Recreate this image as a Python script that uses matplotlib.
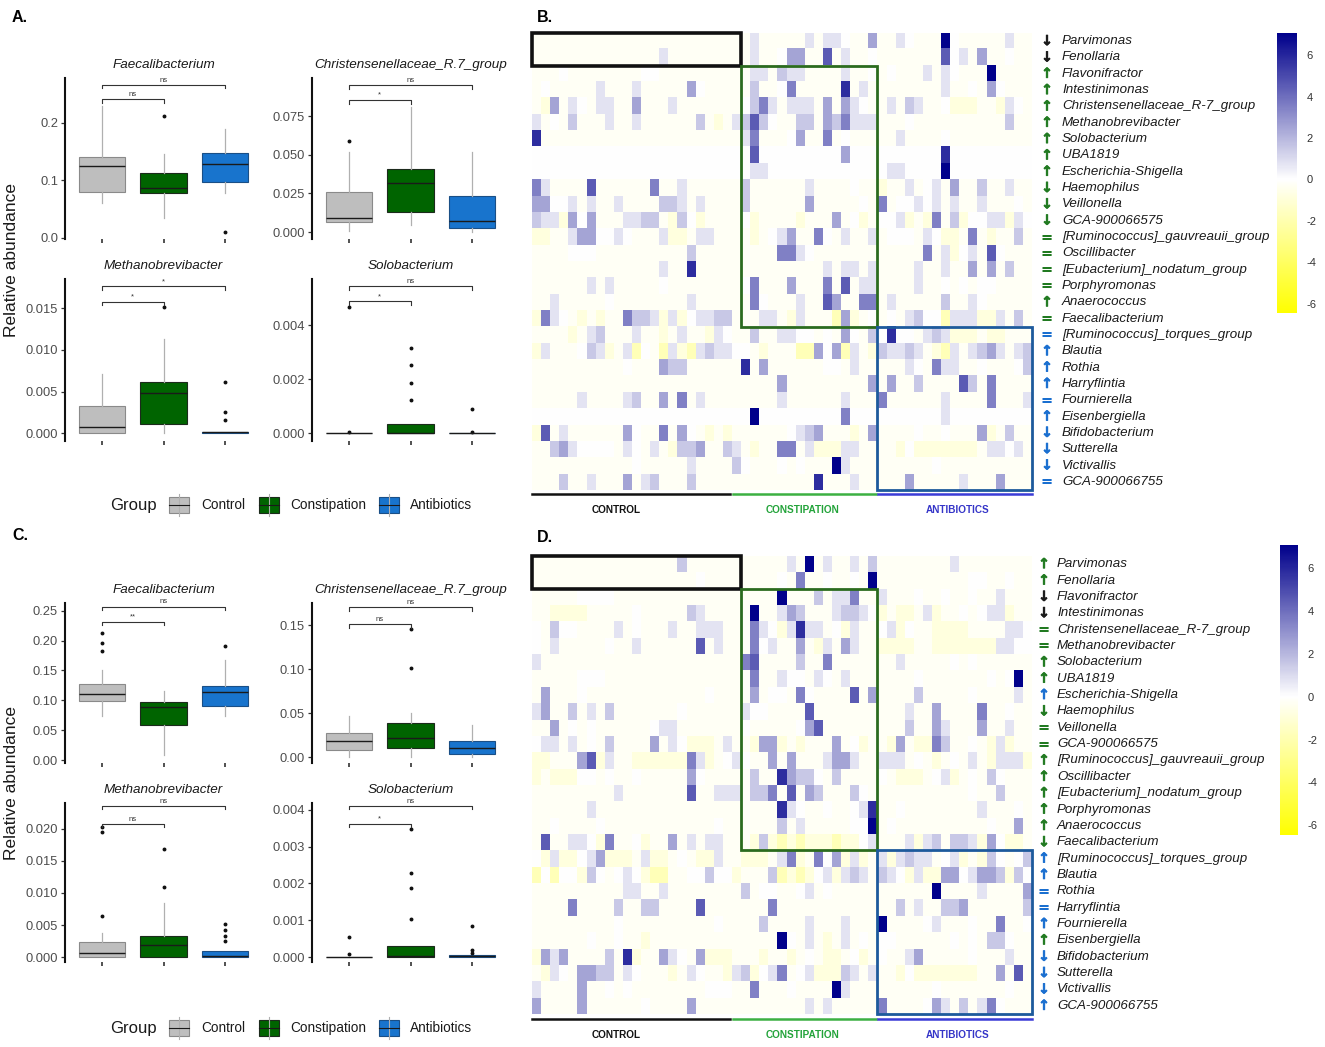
import numpy as np
import matplotlib
matplotlib.use("Agg")
import matplotlib.pyplot as plt
import matplotlib.patheffects as pe
from matplotlib.colors import LinearSegmentedColormap, Normalize
from matplotlib.patches import Rectangle
from matplotlib.lines import Line2D
from matplotlib.cm import ScalarMappable
from matplotlib.transforms import blended_transform_factory

plt.rcParams['font.family'] = ['Liberation Sans', 'DejaVu Sans']

# ------------------------------------------------------------------ DATA
groups = ['Control', 'Constipation', 'Antibiotics']
group_fill = ['#BEBEBE', '#006400', '#1874CD']
group_edge = ['#8a8a8a', '#1c2a1c', '#1a4f86']

box_titles = ['Faecalibacterium', 'Christensenellaceae_R.7_group',
              'Methanobrevibacter', 'Solobacterium']

# (whislo, q1, median, q3, whishi, outliers) per group
A_faecalibacterium = [(0.061, 0.079, 0.124, 0.1396, 0.230, []),
                      (0.034, 0.0785, 0.086, 0.112, 0.146, [0.211]),
                      (0.0775, 0.096, 0.128, 0.1466, 0.189, [0.0105])]
A_christensenellaceae = [(0.0004, 0.0064, 0.0092, 0.0258, 0.052, [0.0586]),
                         (0.0043, 0.0129, 0.0318, 0.0408, 0.081, []),
                         (0.0, 0.0028, 0.0071, 0.0232, 0.0515, [])]
A_methanobrevibacter = [(0.0, 0.0, 0.0007, 0.00325, 0.0071, []),
                        (0.0, 0.00108, 0.00478, 0.00614, 0.0113, [0.0151]),
                        (0.0, 0.0, 0.0001, 0.0002, 0.0002, [0.0062, 0.00257, 0.00165])]
A_solobacterium = [(0.0, 0.0, 0.0, 0.00001, 0.00001, [0.00466, 0.00003]),
                   (0.0, 0.0, 0.00001, 0.000346, 0.000346, [0.00315, 0.00253, 0.00187, 0.00123]),
                   (0.0, 0.0, 0.0, 0.00001, 0.00001, [0.0009, 0.00004])]
A_sig = [[('ns', 0.241), ('ns', 0.266)],
         [('*', 0.0853), ('ns', 0.095)],
         [('*', 0.0158), ('*', 0.01763)],
         [('*', 0.00488), ('ns', 0.00544)]]

C_faecalibacterium = [(0.074, 0.099, 0.111, 0.128, 0.151, [0.213, 0.196, 0.183]),
                      (0.008, 0.059, 0.089, 0.097, 0.116, []),
                      (0.074, 0.091, 0.114, 0.124, 0.168, [0.191])]
C_christensenellaceae = [(0.0, 0.008, 0.018, 0.027, 0.047, []),
                         (0.0, 0.010, 0.022, 0.039, 0.050, [0.146, 0.101]),
                         (0.0, 0.003, 0.010, 0.018, 0.036, [])]
C_methanobrevibacter = [(0.0, 0.0, 0.0006, 0.0023, 0.0037, [0.0064, 0.0196, 0.0203]),
                        (0.0, 0.0, 0.0019, 0.0033, 0.0084, [0.011, 0.0169]),
                        (0.0, 0.0, 0.0001, 0.0009, 0.0009, [0.0052, 0.0042, 0.0033, 0.0025])]
C_solobacterium = [(0.0, 0.0, 0.0, 0.00001, 0.00001, [0.00054, 0.00008]),
                   (0.0, 0.0, 0.00002, 0.0003, 0.0003, [0.00103, 0.00188, 0.00229, 0.00348]),
                   (0.0, 0.0, 0.00003, 0.00005, 0.00005, [0.00084, 0.00019, 0.0001])]
C_sig = [[('**', 0.232), ('ns', 0.257)],
         [('ns', 0.151), ('ns', 0.170)],
         [('ns', 0.0208), ('ns', 0.0236)],
         [('*', 0.00362), ('ns', 0.00411)]]

A_yticks = [[0.0, 0.1, 0.2], [0.0, 0.025, 0.05, 0.075],
            [0.0, 0.005, 0.010, 0.015], [0.0, 0.002, 0.004]]
A_yticklabels = [['0.0', '0.1', '0.2'], ['0.000', '0.025', '0.050', '0.075'],
                 ['0.000', '0.005', '0.010', '0.015'], ['0.000', '0.002', '0.004']]
C_yticks = [[0.0, 0.05, 0.10, 0.15, 0.20, 0.25], [0.0, 0.05, 0.10, 0.15],
            [0.0, 0.005, 0.010, 0.015, 0.020], [0.0, 0.001, 0.002, 0.003, 0.004]]
C_yticklabels = [['0.00', '0.05', '0.10', '0.15', '0.20', '0.25'],
                 ['0.00', '0.05', '0.10', '0.15'],
                 ['0.000', '0.005', '0.010', '0.015', '0.020'],
                 ['0.000', '0.001', '0.002', '0.003', '0.004']]

genera_B = ['Parvimonas', 'Fenollaria', 'Flavonifractor', 'Intestinimonas',
            'Christensenellaceae_R-7_group', 'Methanobrevibacter', 'Solobacterium',
            'UBA1819', 'Escherichia-Shigella', 'Haemophilus', 'Veillonella',
            'GCA-900066575', '[Ruminococcus]_gauvreauii_group', 'Oscillibacter',
            '[Eubacterium]_nodatum_group', 'Porphyromonas', 'Anaerococcus',
            'Faecalibacterium', '[Ruminococcus]_torques_group', 'Blautia', 'Rothia',
            'Harryflintia', 'Fournierella', 'Eisenbergiella', 'Bifidobacterium',
            'Sutterella', 'Victivallis', 'GCA-900066755']
genera_D = list(genera_B)

arrows_B = ['↓', '↓', '↑', '↑', '↑', '↑', '↑', '↑', '↑', '↓', '↓', '↓', '=', '=',
            '=', '=', '↑', '=', '=', '↑', '↑', '↑', '=', '↑', '↓', '↓', '↓', '=']
arrow_grp_B = ['k', 'k'] + ['g'] * 16 + ['b'] * 10
arrows_D = ['↑', '↑', '↓', '↓', '=', '=', '↑', '↑', '↑', '↓', '=', '=', '↑', '↑',
            '↑', '↑', '↑', '↓', '↑', '↑', '=', '=', '↑', '↑', '↓', '↓', '↓', '↑']
arrow_grp_D = ['g', 'g', 'k', 'k', 'g', 'g', 'g', 'g', 'b', 'g', 'g', 'g', 'g', 'g',
               'g', 'g', 'g', 'g', 'b', 'b', 'b', 'b', 'b', 'g', 'b', 'b', 'b', 'b']

# heatmap cell codes: y/-/. = yellowish, 0 = white, 1..7 blue levels
levels = {'y': -1.8, '-': -0.85, '.': -0.25, '0': 0.0, '1': 0.75, '2': 1.5,
          '3': 2.5, '4': 3.5, '5': 4.5, '6': 5.8, '7': 7.0}

HB_control = [
    ".......................", "..............1........", "...0........00.........",
    ".0.....1...1.....30....", ".-3.10.11..3...1.......", "1.0.2...1..1......2.-.1",
    "6......................", "00000000000000000000000", "00000000000000000000000",
    "41....5......4..1......", "33001.1..1....221.1....", "211-303...1122.-20-....",
    "--..1330010...1--.11...", "....000..........2.....", "..............1..6.....",
    "......1.1.....0........", "..1.....0........1.....", "-410.-.-..4221-1-01122.",
    "....-.12...1..-.1..-10.", "-1...021-.1y0.y1-y12110", "..........0...322......",
    ".......................", ".....1....12..3.4.1....", "00000000000000000000000",
    "-5.1......30..4.30.-.-.", "..2310000.10.1.-223..21", "...........0.....1....2",
    "...2..1...3.12...2....."]
HB_constipation = [
    ".1.....1.110..3", ".1..033..5.1..0", ".11.211....1..0", ".2..04.....6.1.",
    "0241.111.3.310.", "2520..22.324111", "14...03..4.0...", "050000000003000",
    "011000000000000", "2......1....0..", "2......3.....0.", "0-....-...3.0-.",
    ".-.013..40.1..1", "....4410.......", ".........1.11.1", "04...3...4.5.11",
    ".40...1..53..44", "..11.-1...y3-.0", ".2..1100.0.30.2", "0.-...yy303y1.-",
    "6.3......00.1..", "....3.........3", "....1......1...", "070000000004000",
    ".....0123...-.3", ".-..44.1---11..", "0...0.0...71...", "........6...1.."]
HB_antibiotics = [
    "..10...70.....1..", ".......501.3..0..", ".0...1.10...7....", ".......1..0.30...",
    ".1.21..0---..-10.", "...0..........2..", "..1....0.........", "00000006000000000",
    "01100007000000000", "-..1.01.3..2..1..", "4.00101.1..1...0.", "001-.-4.2-0011-10",
    ".000.10--.4.-..2.", ".....4.1-01.50...", "....1..1..3.3.2..", "....1..0.0.00....",
    ".1.....2..10.....", ".0.1200y111--1.2.", "0600.121---.--...", "21121.-y1.1231.12",
    "...10.411..0...02", ".3..2....52.4....", "4......1....4...1", "00000001000000000",
    "....0..0...3-.2..", "..-0-------.1101.", "......0..........", "...3.....1...3..."]

HD_control = [
    "................2......", "..................0....", ".....0000..............",
    "..----.....0.....21....", "0.200....1.0...1..111..", "0.1.....0..1......5.1..",
    "1......................", ".....000...............", ".3...0.............0...",
    "13..2.1.2.......0......", "..3.0.0......011.......", "011.1.0.2....3.10---.1.",
    "--...35-1..------41-.01", "-.---00.0..0.....30....", ".........1.......5..111",
    "......1................", "..0....0............0..", ".5..110-4..0-..3.1.11..",
    "0-1--013---.1--.0.--1..", "y0y00-20.010-yy..00200-", "..........11..1........",
    "....4....2..22....5....", ".........0..........0..", "......0..0..-..........",
    "-313....2.6-..310.3---.", ".-10.3322.10...-.10..-1", "1....3..0.0........000.",
    "3....3......0....3....."]
HD_constipation = [
    ".....1.7.1..1.2", "....0.4..0..0.7", "....7...2.114..", ".7..132...12210",
    ".410-1611.0-1..", ".401..3.-1.31..", "45....2..4.....", ".4..100.10.1...",
    ".3.00.40....5.3", "100....5.......", "0.....035......", ".-33-.-...3.0-.",
    "0..3.3...1331..", ".2..63220.2....", ".224.5.32...20.", "....610..0..016",
    "....2.1.....007", ".-2-y-y---y--01", "---.14-.403-1-.", "...2y-y-01-121.",
    "2.00..01.0.....", "...4...........", "..2....1...1...", "....70.1.-.1.0.",
    "..-..-.0.--.0-.", "2-014.01---21.1", ".4...0....71...", ".......1.1....."]
HD_antibiotics = [
    "........1........", "..........00..0..", "1...0..0..0..1...", "-.--.1-..0.011-..",
    "01-0..----....110", "----..-------1100", "..1.....0.0......", "....0.......0.07.",
    "....2.....0....1.", "...1..3....4..0..", "...2..31...3..1..", ".-3.--42..0.-1-..",
    "111.0.-.0.1.-111-", "0.---.01-.0.20...", "..........0..2...", "..0........1...0.",
    ".0..........0..3.", "...1-12.221-30--.", "1-1211.01-.-20.02", "210-1--3301332-20",
    "......7....1....3", "..2.1..223......2", "7....01...0..4..0", "00......0.0.220..",
    "0..13.....0...1..", "..-0-------..3.5.", "......0.......0..", "4....031.2.140..."]

n_ctrl, n_const, n_anti = 23, 15, 17
cb_ticks = [-6, -4, -2, 0, 2, 4, 6]
vmin, vmax = -6.45, 7.07

# ------------------------------------------------------------------ FIGURE
W, H = 1325, 1047
fig = plt.figure(figsize=(W / 100, H / 100), dpi=100)


def pxa(x0, y0, x1, y1):
    return fig.add_axes([x0 / W, 1 - y1 / H, (x1 - x0) / W, (y1 - y0) / H])


def fx(x):
    return x / W


def fy(y):
    return 1 - y / H


def box_panel(ax, stats, ylim, yticks, yticklabels, title, sigs):
    st = []
    for (lo, q1, med, q3, hi, fl) in stats:
        st.append(dict(med=med, q1=q1, q3=q3, whislo=lo, whishi=hi,
                       fliers=np.array(fl, dtype=float)))
    bp = ax.bxp(st, positions=[1, 2, 3], widths=0.75, patch_artist=True,
                showcaps=False,
                flierprops=dict(marker='o', markersize=1.8, markerfacecolor='#111111',
                                markeredgecolor='#111111'),
                medianprops=dict(color='#1a1a1a', lw=1.0),
                whiskerprops=dict(color='#b0b0b0', lw=0.9))
    for patch, fc, ec in zip(bp['boxes'], group_fill, group_edge):
        patch.set_facecolor(fc)
        patch.set_edgecolor(ec)
        patch.set_linewidth(0.8)
    ax.set_xlim(0.4, 3.6)
    ax.set_ylim(*ylim)
    ax.set_yticks(yticks)
    ax.set_yticklabels(yticklabels)
    ax.set_xticks([1, 2, 3])
    ax.set_xticklabels([])
    for s in ['top', 'right', 'bottom']:
        ax.spines[s].set_visible(False)
    ax.spines['left'].set_linewidth(1.5)
    ax.spines['left'].set_color('#111111')
    ax.tick_params(axis='y', labelsize=9.3, labelcolor='#4d4d4d', length=3,
                   width=0.9, color='#333333', pad=2)
    ax.tick_params(axis='x', length=3, width=1.2, color='#333333')
    ax.annotate(title, xy=(0.5, 1.0), xycoords='axes fraction', xytext=(0, 9.4),
                textcoords='offset points', ha='center', va='center',
                fontsize=9.7, style='italic', color='#1a1a1a')
    yr = ylim[1] - ylim[0]
    d = 0.022 * yr
    for (lab, yv), x2 in zip(sigs, [2, 3]):
        ax.plot([1, 1, x2, x2], [yv - d, yv, yv, yv - d], color='#333333', lw=0.8,
                clip_on=False)
        ax.text((1 + x2) / 2, yv + 0.008 * yr, lab, ha='center', va='bottom',
                fontsize=5.5, color='#333333')


def legend_row(yc):
    fig.text(fx(110), fy(yc), 'Group', fontsize=12, va='center', ha='left',
             color='#1a1a1a')
    for kx, tx, lab, fc, ec in zip([169, 259, 379], [201, 290, 410], groups,
                                   group_fill, group_edge):
        fig.add_artist(Line2D([fx(kx + 10)] * 2, [fy(yc - 11), fy(yc + 11)],
                              color='#b0b0b0', lw=0.8))
        fig.add_artist(Rectangle((fx(kx), fy(yc + 8)), 20 / W, 16 / H,
                                 transform=fig.transFigure, fc=fc, ec=ec, lw=0.8))
        fig.add_artist(Line2D([fx(kx), fx(kx + 20)], [fy(yc)] * 2, color='#1a1a1a',
                              lw=0.8))
        fig.text(fx(tx), fy(yc), lab, fontsize=9.8, va='center', ha='left',
                 color='#1a1a1a')


A_stats = [A_faecalibacterium, A_christensenellaceae, A_methanobrevibacter, A_solobacterium]
C_stats = [C_faecalibacterium, C_christensenellaceae, C_methanobrevibacter, C_solobacterium]
A_ylims = [(-0.0025, 0.278), (-0.0045, 0.0996), (-0.00093, 0.01852), (-0.00029, 0.00571)]
C_ylims = [(-0.005, 0.263), (-0.0068, 0.175), (-0.00078, 0.02406), (-0.000136, 0.00419)]
A_rects = [(65, 78, 262, 239), (312, 78, 509, 239), (65, 279, 262, 441), (312, 279, 509, 441)]
C_rects = [(65, 603, 262, 763), (312, 603, 509, 763), (65, 803, 262, 962), (312, 803, 509, 962)]

for i in range(4):
    ax = pxa(*A_rects[i])
    box_panel(ax, A_stats[i], A_ylims[i], A_yticks[i], A_yticklabels[i], box_titles[i], A_sig[i])
    ax = pxa(*C_rects[i])
    box_panel(ax, C_stats[i], C_ylims[i], C_yticks[i], C_yticklabels[i], box_titles[i], C_sig[i])

fig.text(fx(12), fy(260), 'Relative abundance', rotation=90, fontsize=12.5,
         va='center', ha='center', color='#1a1a1a')
fig.text(fx(12), fy(783), 'Relative abundance', rotation=90, fontsize=12.5,
         va='center', ha='center', color='#1a1a1a')
legend_row(505)
legend_row(1028)

for lab, x, y in [('A.', 12, 17), ('B.', 537, 17), ('C.', 12, 536), ('D.', 537, 537)]:
    fig.text(fx(x), fy(y), lab, fontsize=11.5, fontweight='bold', va='center', ha='left')

# ------------------------------------------------------------------ HEATMAPS
wpos = -vmin / (vmax - vmin)
cmap = LinearSegmentedColormap.from_list('yb', [(0.0, '#FFFF00'), (wpos, '#FFFFFF'),
                                                (1.0, '#00008B')])
norm = Normalize(vmin=vmin, vmax=vmax)
arrow_col = {'k': '#1a1a1a', 'g': '#217a21', 'b': '#1a6fd0'}


def fix(s, n):
    return s.ljust(n, '.')[:n]


def heat_panel(rect, ctrl, const, anti, genera, arrows, agrp, cbrect, ylines, ylab,
               arrow_x, name_x):
    rows = [fix(a, n_ctrl) + fix(b, n_const) + fix(c, n_anti)
            for a, b, c in zip(ctrl, const, anti)]
    mat = np.array([[levels[ch] for ch in r] for r in rows])
    ax = pxa(*rect)
    ax.imshow(mat, cmap=cmap, norm=norm, aspect='auto', interpolation='nearest')
    ax.set_axis_off()
    nr = mat.shape[0]
    ax.add_patch(Rectangle((-0.5, -0.5), n_ctrl, 2, fill=False, ec='#111111', lw=2.6,
                           clip_on=False))
    ax.add_patch(Rectangle((n_ctrl - 0.5, 1.5), n_const, 16, fill=False, ec='#2b6b1e',
                           lw=2.0, clip_on=False))
    ax.add_patch(Rectangle((n_ctrl + n_const - 0.5, 17.5), n_anti, nr - 18, fill=False,
                           ec='#1d5a9c', lw=2.0, clip_on=False))
    tr = blended_transform_factory(ax.transAxes, ax.transData)
    for i, (g, a, c) in enumerate(zip(genera, arrows, agrp)):
        col = arrow_col[c]
        if a == '=':
            ax.text(arrow_x, i, a, transform=tr, ha='center', va='center', fontsize=10.5,
                    fontweight='bold', color=col, family='DejaVu Sans')
        else:
            ax.text(arrow_x, i, a, transform=tr, ha='center', va='center', fontsize=10,
                    fontweight='bold', color=col, family='DejaVu Sans',
                    path_effects=[pe.withStroke(linewidth=0.5, foreground=col)])
        ax.text(name_x, i, g, transform=tr, ha='left', va='center', fontsize=9.6,
                style='italic', color='#1a1a1a')
    for (x0, x1), col, lab, xc, lc in zip([(532, 730), (733, 876), (878, 1032)],
                                          ['#111111', '#3cb043', '#3b3bd6'],
                                          ['CONTROL', 'CONSTIPATION', 'ANTIBIOTICS'],
                                          [616, 803, 958],
                                          ['#111111', '#23a33a', '#3535c8']):
        fig.add_artist(Line2D([fx(x0), fx(x1)], [fy(ylines)] * 2, color=col, lw=1.8))
        fig.text(fx(xc), fy(ylab), lab, ha='center', va='center', fontsize=7.2,
                 fontweight='bold', color=lc)
    cax = pxa(*cbrect)
    cb = fig.colorbar(ScalarMappable(norm=norm, cmap=cmap), cax=cax)
    cb.outline.set_visible(False)
    cb.set_ticks(cb_ticks)
    cb.set_ticklabels([str(t) for t in cb_ticks])
    cax.tick_params(length=0, labelsize=8, labelcolor='#333333', pad=7)


heat_panel((532, 33, 1032, 490), HB_control, HB_constipation, HB_antibiotics,
           genera_B, arrows_B, arrow_grp_B, (1277, 33, 1297, 313), 494, 510,
           1.030, 1.060)
heat_panel((532, 556, 1032, 1014), HD_control, HD_constipation, HD_antibiotics,
           genera_D, arrows_D, arrow_grp_D, (1280, 545, 1298, 835), 1019, 1035,
           1.024, 1.050)

fig.savefig('out.png', dpi=100)
